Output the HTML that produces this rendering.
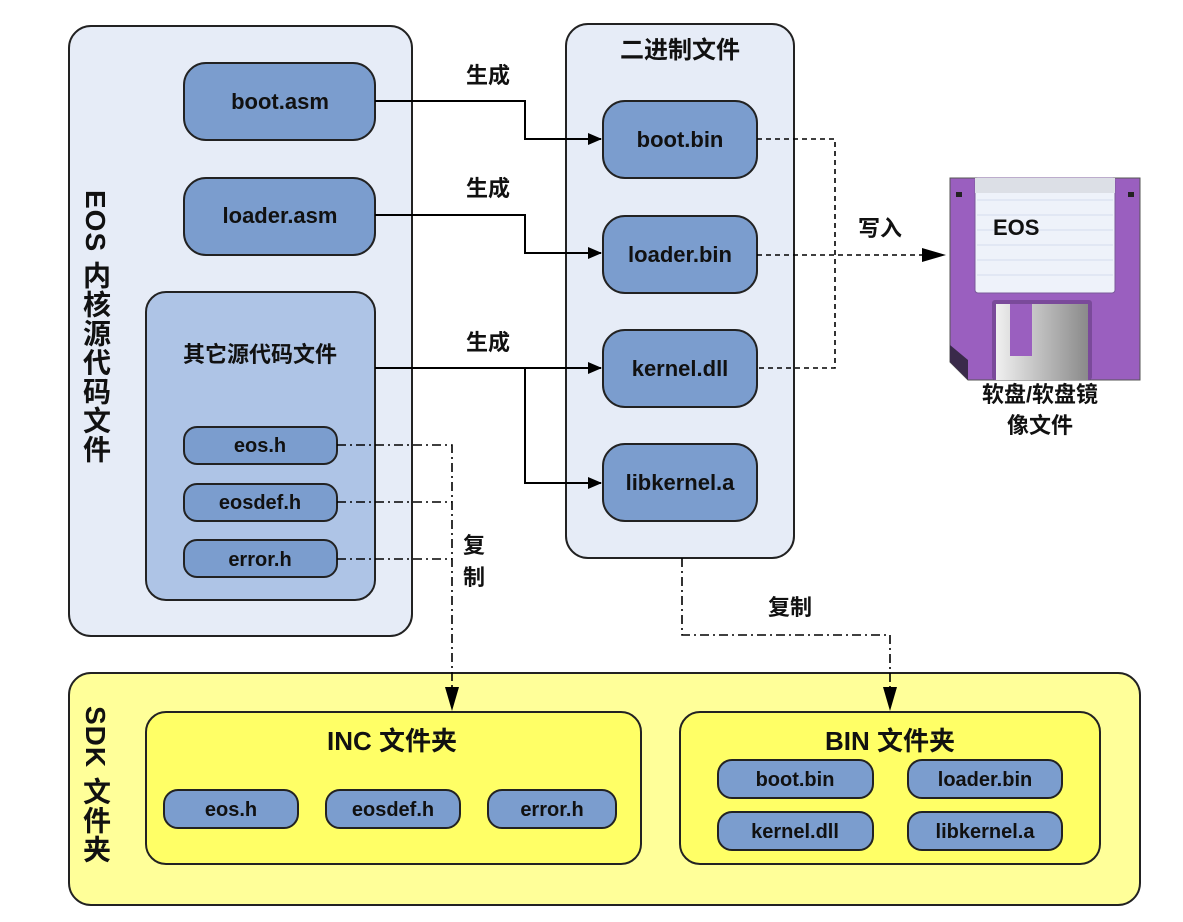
<!DOCTYPE html>
<html><head><meta charset="utf-8"><style>
html,body{margin:0;padding:0;background:#fff}
text{font-family:"Liberation Sans","Noto Sans CJK SC",sans-serif;font-weight:bold;fill:#111}
.v{position:absolute;writing-mode:vertical-rl;font-family:"Liberation Sans","Noto Sans CJK SC",sans-serif;font-weight:bold;font-size:28px;color:#111;line-height:28px;letter-spacing:1px}
</style></head><body>
<div style="position:relative;width:1183px;height:922px">
<svg width="1183" height="922" viewBox="0 0 1183 922" xmlns="http://www.w3.org/2000/svg" style="position:absolute;left:0;top:0">
<defs>
<marker id="a" markerWidth="14" markerHeight="12" refX="13" refY="6" orient="auto" markerUnits="userSpaceOnUse"><path d="M0,0 L14,6 L0,12 z" fill="#000"/></marker>
<marker id="b" markerWidth="24" markerHeight="14" refX="23" refY="7" orient="auto" markerUnits="userSpaceOnUse"><path d="M0,0 L24,7 L0,14 z" fill="#000"/></marker>
<linearGradient id="g" x1="0" x2="1"><stop offset="0" stop-color="#f0f0f0"/><stop offset="1" stop-color="#8a8a8a"/></linearGradient>
</defs>
<g stroke="#222" stroke-width="2">
<rect x="69" y="26" width="343" height="610" rx="22" fill="#e6ecf7"/>
<rect x="566" y="24" width="228" height="534" rx="22" fill="#e6ecf7"/>
<rect x="146" y="292" width="229" height="308" rx="20" fill="#aec4e6"/>
<rect x="69" y="673" width="1071" height="232" rx="22" fill="#ffff99"/>
<rect x="146" y="712" width="495" height="152" rx="20" fill="#ffff66"/>
<rect x="680" y="712" width="420" height="152" rx="20" fill="#ffff66"/>
<g fill="#7b9dce">
<rect x="184" y="63" width="191" height="77" rx="22"/>
<rect x="184" y="178" width="191" height="77" rx="22"/>
<rect x="184" y="427" width="153" height="37" rx="13"/>
<rect x="184" y="484" width="153" height="37" rx="13"/>
<rect x="184" y="540" width="153" height="37" rx="13"/>
<rect x="603" y="101" width="154" height="77" rx="22"/>
<rect x="603" y="216" width="154" height="77" rx="22"/>
<rect x="603" y="330" width="154" height="77" rx="22"/>
<rect x="603" y="444" width="154" height="77" rx="22"/>
<rect x="164" y="790" width="134" height="38" rx="14"/>
<rect x="326" y="790" width="134" height="38" rx="14"/>
<rect x="488" y="790" width="128" height="38" rx="14"/>
<rect x="718" y="760" width="155" height="38" rx="14"/>
<rect x="908" y="760" width="154" height="38" rx="14"/>
<rect x="718" y="812" width="155" height="38" rx="14"/>
<rect x="908" y="812" width="154" height="38" rx="14"/>
</g>
</g>
<g fill="none" stroke="#000" stroke-width="2">
<path d="M375,101 H525 V139 H601" marker-end="url(#a)"/>
<path d="M375,215 H525 V253 H601" marker-end="url(#a)"/>
<path d="M375,368 H601" marker-end="url(#a)"/>
<path d="M525,368 V483 H601" marker-end="url(#a)"/>
</g>
<g fill="none" stroke="#000" stroke-width="1.6" stroke-dasharray="5,4">
<path d="M757,139 H835 V368 H757"/>
<path d="M757,255 H945" marker-end="url(#b)"/>
</g>
<g fill="none" stroke="#000" stroke-width="1.6" stroke-dasharray="9,4,2,4">
<path d="M337,445 H452 V710" marker-end="url(#b)"/>
<path d="M337,502 H452"/>
<path d="M337,559 H452"/>
<path d="M682,558 V635 H890 V710" marker-end="url(#b)"/>
</g>
<path d="M950,178 H1140 V380 H968 L950,362 Z" fill="#9a5fbf" stroke="#555" stroke-width="1"/>
<path d="M950,345 L968,360 V380 L950,362 Z" fill="#3a2a4a"/>
<rect x="975" y="178" width="140" height="115" rx="3" fill="#eef2fa" stroke="#7a5a9a"/>
<g stroke="#d4dcee" stroke-width="1"><line x1="977" y1="200" x2="1113" y2="200"/><line x1="977" y1="215" x2="1113" y2="215"/><line x1="977" y1="230" x2="1113" y2="230"/><line x1="977" y1="245" x2="1113" y2="245"/><line x1="977" y1="260" x2="1113" y2="260"/><line x1="977" y1="275" x2="1113" y2="275"/></g>
<rect x="975" y="178" width="140" height="15" fill="#dcdfe6"/>
<rect x="956" y="192" width="6" height="5" fill="#222"/><rect x="1128" y="192" width="6" height="5" fill="#222"/>
<rect x="992" y="300" width="100" height="80" rx="3" fill="#7a4a9a"/>
<rect x="996" y="304" width="92" height="76" fill="url(#g)"/>
<rect x="1010" y="304" width="22" height="52" fill="#9a5fbf"/>
<text x="993" y="235" font-size="22">EOS</text>
<g font-size="22" text-anchor="middle">
<text x="280" y="109">boot.asm</text>
<text x="280" y="223">loader.asm</text>
<text x="260" y="362">其它源代码文件</text>
<text x="680" y="147">boot.bin</text>
<text x="680" y="262">loader.bin</text>
<text x="680" y="376">kernel.dll</text>
<text x="680" y="490">libkernel.a</text>
<text x="680" y="58" font-size="24">二进制文件</text>
<text x="488" y="83">生成</text>
<text x="488" y="196">生成</text>
<text x="488" y="350">生成</text>
<text x="880" y="236">写入</text>
<text x="474" y="553">复</text>
<text x="474" y="585">制</text>
<text x="790" y="615">复制</text>
<text x="1040" y="402">软盘/软盘镜</text>
<text x="1040" y="433">像文件</text>
<text x="392" y="750" font-size="26">INC 文件夹</text>
<text x="890" y="750" font-size="26">BIN 文件夹</text>
</g>
<g font-size="20" text-anchor="middle">
<text x="260" y="452">eos.h</text>
<text x="260" y="509">eosdef.h</text>
<text x="260" y="566">error.h</text>
<text x="231" y="816">eos.h</text>
<text x="393" y="816">eosdef.h</text>
<text x="552" y="816">error.h</text>
<text x="795" y="786">boot.bin</text>
<text x="985" y="786">loader.bin</text>
<text x="795" y="838">kernel.dll</text>
<text x="985" y="838">libkernel.a</text>
</g>
</svg>
<div class="v" style="left:81px;top:190px">EOS 内核源代码文件</div>
<div class="v" style="left:81px;top:706px">SDK 文件夹</div>
</div>
</body></html>
